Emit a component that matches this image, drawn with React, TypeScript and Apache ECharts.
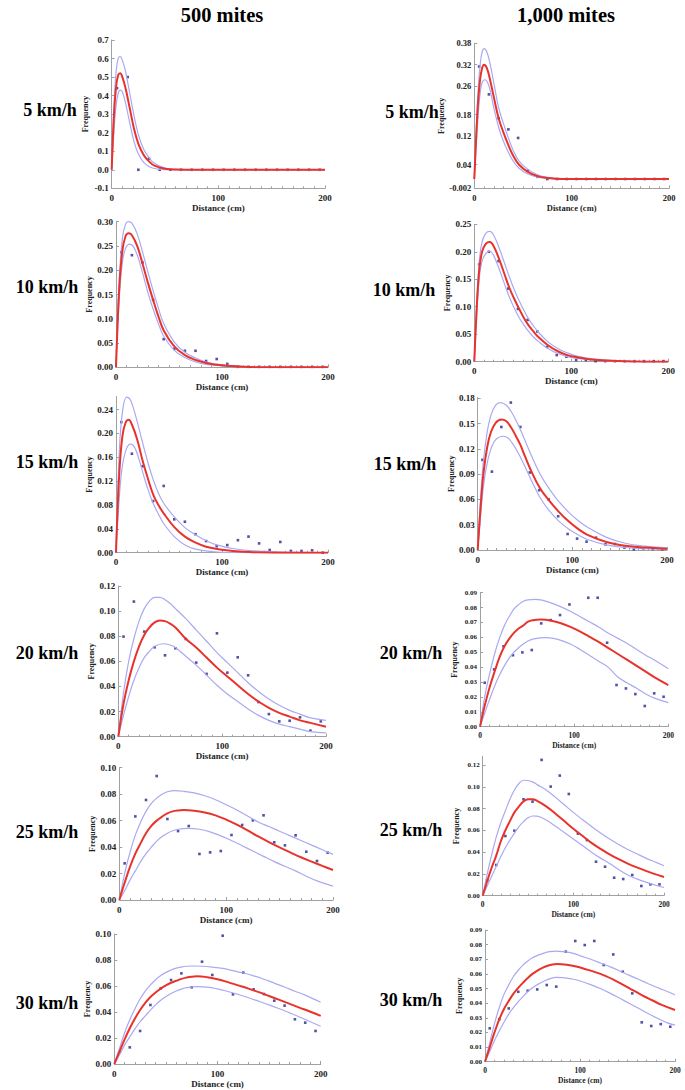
import React, { useEffect, useRef } from "react";
import * as echarts from "echarts";

const binCenters = [5, 15, 25, 35, 45, 55, 65, 75, 85, 95, 105, 115, 125, 135, 145, 155, 165, 175, 185, 195];
const xTickLabels = ["0", "100", "200"];
const columnTitles = ["500 mites", "1,000 mites"];
const speedLabels = ["5 km/h", "10 km/h", "15 km/h", "20 km/h", "25 km/h", "30 km/h"];

// ---- 500 mites, 5 km/h
const obs500_5 = [0.44, 0.5, 0.0, 0.06, 0, 0, 0, 0, 0, 0, 0, 0, 0, 0, 0, 0, 0, 0, 0, 0];
const fit500_5 = [[0, 0], [2, 0.28], [4, 0.44], [6, 0.51], [8, 0.52], [10, 0.5], [13, 0.44], [17, 0.33], [21, 0.22], [25, 0.14], [30, 0.08], [35, 0.045], [40, 0.022], [50, 0.005], [60, 0.001], [80, 0], [200, 0]];
const upper500_5 = [[0, 0], [2, 0.33], [4, 0.52], [6, 0.6], [8, 0.61], [10, 0.59], [13, 0.53], [17, 0.41], [21, 0.29], [25, 0.19], [30, 0.11], [35, 0.065], [40, 0.035], [50, 0.009], [60, 0.002], [80, 0], [200, 0]];
const lower500_5 = [[0, 0], [2, 0.2], [4, 0.34], [6, 0.41], [8, 0.43], [10, 0.42], [13, 0.36], [17, 0.25], [21, 0.15], [25, 0.085], [30, 0.04], [35, 0.018], [40, 0.007], [50, 0.001], [60, 0], [200, 0]];
const yTicks500_5 = [0.7, 0.6, 0.5, 0.4, 0.3, 0.2, 0.1, 0, -0.1];
const yLabels500_5 = ["0.7", "0.6", "0.5", "0.4", "0.3", "0.2", "0.1", "0.0", "-0.1"];

// ---- 1,000 mites, 5 km/h
const obs1000_5 = [0.315, 0.237, 0.17, 0.139, 0.115, 0.023, 0.006, 0, 0, 0, 0, 0, 0, 0, 0, 0, 0, 0, 0, 0];
const fit1000_5 = [[0, 0], [2, 0.12], [4, 0.22], [6, 0.28], [8, 0.31], [10, 0.32], [13, 0.31], [16, 0.28], [20, 0.23], [25, 0.17], [30, 0.13], [35, 0.095], [40, 0.065], [46, 0.04], [55, 0.02], [65, 0.008], [75, 0.003], [90, 0], [200, 0]];
const upper1000_5 = [[0, 0], [2, 0.14], [4, 0.25], [6, 0.32], [8, 0.355], [10, 0.365], [13, 0.355], [16, 0.325], [20, 0.27], [25, 0.2], [30, 0.155], [35, 0.115], [40, 0.08], [46, 0.05], [55, 0.027], [65, 0.012], [75, 0.005], [90, 0.001], [200, 0]];
const lower1000_5 = [[0, 0], [2, 0.1], [4, 0.18], [6, 0.24], [8, 0.27], [11, 0.278], [14, 0.268], [17, 0.24], [20, 0.2], [25, 0.145], [30, 0.105], [35, 0.075], [40, 0.05], [46, 0.03], [55, 0.014], [65, 0.005], [75, 0.002], [90, 0], [200, 0]];
const yTicks1000_5 = [0.38, 0.32, 0.26, 0.18, 0.12, 0.04, -0.026];
const yLabels1000_5 = ["0.38", "0.32", "0.26", "0.18", "0.12", "0.04", "-0.002"];

// ---- 500 mites, 10 km/h
const obs500_10 = [0.237, 0.231, 0.216, 0.139, 0.058, 0.038, 0.034, 0.034, 0.013, 0.017, 0.007, 0.001, 0.001, 0.001, 0.001, 0.001, 0.001, 0.001, 0.001, 0.001];
const fit500_10 = [[0, 0], [3, 0.16], [6, 0.24], [9, 0.27], [12, 0.276], [15, 0.272], [20, 0.25], [25, 0.214], [30, 0.175], [35, 0.139], [40, 0.105], [45, 0.076], [55, 0.043], [65, 0.025], [75, 0.015], [85, 0.009], [100, 0.004], [120, 0.001], [140, 0], [200, 0]];
const upper500_10 = [[0, 0], [3, 0.18], [6, 0.265], [9, 0.295], [12, 0.3], [15, 0.297], [20, 0.275], [25, 0.238], [30, 0.197], [35, 0.158], [40, 0.122], [45, 0.09], [55, 0.052], [65, 0.031], [75, 0.019], [85, 0.011], [100, 0.005], [120, 0.002], [140, 0], [200, 0]];
const lower500_10 = [[0, 0], [3, 0.14], [6, 0.215], [9, 0.245], [13, 0.254], [16, 0.25], [20, 0.232], [25, 0.195], [30, 0.155], [35, 0.12], [40, 0.09], [45, 0.064], [55, 0.035], [65, 0.02], [75, 0.011], [85, 0.006], [100, 0.003], [120, 0], [200, 0]];
const yTicks500_10 = [0, 0.05, 0.1, 0.15, 0.2, 0.25, 0.3];
const yLabels500_10 = ["0.00", "0.05", "0.10", "0.15", "0.20", "0.25", "0.30"];

// ---- 1,000 mites, 10 km/h
const obs1000_10 = [0.177, 0.2, 0.183, 0.133, 0.096, 0.076, 0.055, 0.027, 0.012, 0.009, 0.003, 0.003, 0.001, 0.001, 0.001, 0.001, 0.001, 0.001, 0.001, 0.001];
const fit1000_10 = [[0, 0], [2, 0.08], [5, 0.165], [8, 0.2], [12, 0.215], [16, 0.218], [20, 0.21], [26, 0.185], [31, 0.16], [36, 0.135], [41, 0.115], [46, 0.097], [51, 0.08], [56, 0.066], [61, 0.055], [66, 0.045], [76, 0.03], [86, 0.019], [96, 0.012], [106, 0.008], [116, 0.005], [136, 0.002], [160, 0.0005], [200, 0]];
const upper1000_10 = [[0, 0], [2, 0.09], [5, 0.18], [8, 0.218], [12, 0.234], [16, 0.237], [20, 0.23], [26, 0.205], [31, 0.18], [36, 0.155], [41, 0.132], [46, 0.112], [51, 0.094], [56, 0.078], [61, 0.065], [66, 0.054], [76, 0.036], [86, 0.024], [96, 0.016], [106, 0.01], [116, 0.0065], [136, 0.003], [160, 0.001], [200, 0]];
const lower1000_10 = [[0, 0], [2, 0.07], [5, 0.15], [8, 0.183], [12, 0.197], [16, 0.201], [20, 0.193], [26, 0.167], [31, 0.142], [36, 0.118], [41, 0.098], [46, 0.081], [51, 0.067], [56, 0.055], [61, 0.045], [66, 0.037], [76, 0.024], [86, 0.015], [96, 0.009], [106, 0.006], [116, 0.004], [136, 0.0015], [160, 0.0005], [200, 0]];
const yTicks1000_10 = [0, 0.05, 0.1, 0.15, 0.2, 0.25];
const yLabels1000_10 = ["0.00", "0.05", "0.10", "0.15", "0.20", "0.25"];

// ---- 500 mites, 15 km/h
const obs500_15 = [0.219, 0.166, 0.145, 0.0865, 0.112, 0.056, 0.052, 0.031, 0.0195, 0.011, 0.0128, 0.021, 0.027, 0.0156, 0.0045, 0.018, 0.003, 0.003, 0.004, 0.0];
const fit500_15 = [[0, 0], [3, 0.13], [6, 0.195], [9, 0.218], [12, 0.223], [15, 0.215], [20, 0.19], [25, 0.155], [30, 0.125], [35, 0.098], [40, 0.08], [45, 0.066], [55, 0.043], [65, 0.027], [75, 0.017], [85, 0.01], [100, 0.005], [120, 0.0015], [150, 0], [200, 0]];
const upper500_15 = [[0, 0], [3, 0.165], [6, 0.235], [10, 0.261], [13, 0.258], [16, 0.245], [20, 0.22], [25, 0.185], [30, 0.152], [35, 0.123], [40, 0.1], [45, 0.083], [55, 0.06], [65, 0.042], [75, 0.03], [85, 0.02], [95, 0.013], [110, 0.007], [130, 0.003], [160, 0.001], [200, 0]];
const lower500_15 = [[0, 0], [3, 0.09], [6, 0.145], [10, 0.175], [14, 0.182], [18, 0.175], [22, 0.155], [26, 0.13], [30, 0.107], [35, 0.083], [40, 0.065], [45, 0.049], [55, 0.027], [65, 0.013], [75, 0.006], [90, 0.002], [110, 0], [200, 0]];
const yTicks500_15 = [0, 0.04, 0.08, 0.12, 0.16, 0.2, 0.24];
const yLabels500_15 = ["0.00", "0.04", "0.08", "0.12", "0.16", "0.20", "0.24"];

// ---- 1,000 mites, 15 km/h
const obs1000_15 = [0.107, 0.093, 0.146, 0.175, 0.146, 0.092, 0.071, 0.06, 0.04, 0.019, 0.0135, 0.0099, 0.0146, 0.0067, 0.0071, 0.0028, 0.0008, 0.002, 0.0012, 0.0008];
const fit1000_15 = [[0, 0], [3, 0.05], [6, 0.09], [10, 0.122], [14, 0.14], [19, 0.151], [25, 0.155], [30, 0.153], [35, 0.146], [40, 0.136], [45, 0.125], [50, 0.111], [56, 0.095], [66, 0.073], [76, 0.058], [86, 0.045], [96, 0.034], [106, 0.025], [116, 0.018], [136, 0.0095], [156, 0.005], [177, 0.003], [200, 0.0016]];
const upper1000_15 = [[0, 0], [3, 0.06], [6, 0.105], [10, 0.14], [14, 0.16], [19, 0.172], [24, 0.175], [30, 0.172], [35, 0.165], [40, 0.155], [45, 0.143], [50, 0.13], [56, 0.114], [66, 0.09], [76, 0.072], [86, 0.057], [96, 0.045], [106, 0.035], [116, 0.027], [136, 0.015], [156, 0.008], [177, 0.0045], [200, 0.0025]];
const lower1000_15 = [[0, 0], [3, 0.04], [6, 0.075], [10, 0.103], [14, 0.12], [19, 0.131], [27, 0.135], [32, 0.133], [37, 0.126], [42, 0.117], [47, 0.106], [52, 0.094], [57, 0.082], [66, 0.062], [76, 0.046], [86, 0.034], [96, 0.025], [106, 0.018], [116, 0.0125], [136, 0.006], [156, 0.003], [177, 0.0015], [200, 0.0008]];
const yTicks1000_15 = [0, 0.03, 0.06, 0.09, 0.12, 0.15, 0.18];
const yLabels1000_15 = ["0.00", "0.03", "0.06", "0.09", "0.12", "0.15", "0.18"];

// ---- 500 mites, 20 km/h
const obs500_20 = [0.0797, 0.1076, 0.0837, 0.0712, 0.0648, 0.0704, 0.0778, 0.059, 0.05, 0.0823, 0.051, 0.0632, 0.0489, 0.0276, 0.018, 0.0122, 0.0127, 0.0154, 0.0048, 0.0122];
const fit500_20 = [[0, 0], [5, 0.026], [10, 0.045], [15, 0.06], [20, 0.072], [25, 0.081], [30, 0.087], [35, 0.091], [40, 0.0925], [45, 0.092], [50, 0.09], [55, 0.087], [65, 0.078], [75, 0.071], [85, 0.063], [95, 0.055], [105, 0.048], [115, 0.041], [125, 0.034], [135, 0.028], [145, 0.023], [155, 0.019], [165, 0.016], [175, 0.013], [185, 0.011], [200, 0.008]];
const upper500_20 = [[0, 0], [5, 0.035], [10, 0.06], [15, 0.078], [20, 0.092], [25, 0.102], [30, 0.108], [35, 0.111], [40, 0.111], [45, 0.109], [50, 0.106], [55, 0.102], [65, 0.094], [75, 0.085], [85, 0.076], [95, 0.067], [105, 0.059], [115, 0.051], [125, 0.043], [135, 0.036], [145, 0.03], [155, 0.025], [165, 0.021], [175, 0.018], [185, 0.015], [200, 0.013]];
const lower500_20 = [[0, 0], [5, 0.017], [10, 0.032], [15, 0.045], [20, 0.055], [25, 0.063], [30, 0.068], [35, 0.072], [43, 0.074], [50, 0.073], [55, 0.071], [65, 0.064], [75, 0.057], [85, 0.049], [95, 0.041], [105, 0.034], [115, 0.028], [125, 0.022], [135, 0.017], [145, 0.013], [155, 0.01], [165, 0.008], [175, 0.006], [185, 0.004], [200, 0.003]];
const yTicks500_20 = [0, 0.02, 0.04, 0.06, 0.08, 0.1, 0.12];
const yLabels500_20 = ["0.00", "0.02", "0.04", "0.06", "0.08", "0.10", "0.12"];

// ---- 1,000 mites, 20 km/h
const obs1000_20 = [0.0295, 0.0385, 0.054, 0.048, 0.0499, 0.0515, 0.0694, 0.0716, 0.075, 0.0821, 0.0902, 0.0866, 0.0866, 0.0564, 0.028, 0.0257, 0.0219, 0.0139, 0.0224, 0.0201];
const fit1000_20 = [[0, 0], [5, 0.014], [10, 0.026], [16, 0.038], [21, 0.047], [26, 0.054], [31, 0.059], [36, 0.063], [41, 0.066], [46, 0.068], [51, 0.0705], [56, 0.0715], [64, 0.072], [70, 0.0718], [76, 0.0712], [86, 0.0695], [96, 0.067], [106, 0.064], [116, 0.0605], [126, 0.057], [136, 0.053], [146, 0.049], [156, 0.045], [166, 0.041], [176, 0.037], [186, 0.033], [200, 0.028]];
const upper1000_20 = [[0, 0], [5, 0.02], [10, 0.035], [16, 0.05], [21, 0.06], [26, 0.068], [31, 0.074], [36, 0.079], [41, 0.082], [46, 0.0842], [51, 0.0852], [58, 0.0855], [66, 0.085], [76, 0.083], [86, 0.0805], [96, 0.0775], [106, 0.074], [116, 0.0705], [126, 0.067], [136, 0.063], [146, 0.0595], [156, 0.056], [166, 0.052], [176, 0.048], [186, 0.0445], [200, 0.039]];
const lower1000_20 = [[0, 0], [5, 0.009], [10, 0.018], [16, 0.028], [21, 0.035], [26, 0.041], [31, 0.046], [36, 0.05], [41, 0.053], [46, 0.0555], [51, 0.0575], [56, 0.0588], [64, 0.0597], [71, 0.0598], [76, 0.0595], [86, 0.058], [96, 0.0555], [106, 0.052], [116, 0.048], [126, 0.044], [136, 0.04], [146, 0.0335], [156, 0.0295], [166, 0.026], [176, 0.022], [186, 0.019], [200, 0.0162]];
const yTicks1000_20 = [0, 0.01, 0.02, 0.03, 0.04, 0.05, 0.06, 0.07, 0.08, 0.09];
const yLabels1000_20 = ["0.00", "0.01", "0.02", "0.03", "0.04", "0.05", "0.06", "0.07", "0.08", "0.09"];

// ---- 500 mites, 25 km/h
const obs500_25 = [0.0277, 0.0632, 0.0756, 0.0937, 0.0612, 0.0521, 0.0559, 0.0348, 0.036, 0.037, 0.0491, 0.0567, 0.0602, 0.064, 0.0436, 0.0413, 0.0489, 0.0365, 0.0295, 0.0358];
const fit500_25 = [[0, 0], [5, 0.013], [10, 0.025], [15, 0.035], [20, 0.043], [25, 0.0505], [30, 0.056], [35, 0.06], [40, 0.063], [45, 0.0655], [50, 0.067], [55, 0.0677], [60, 0.068], [70, 0.0675], [80, 0.0662], [90, 0.064], [100, 0.0608], [110, 0.057], [120, 0.0527], [130, 0.048], [140, 0.0438], [150, 0.0398], [160, 0.036], [170, 0.0323], [180, 0.029], [190, 0.0258], [200, 0.0227]];
const upper500_25 = [[0, 0], [5, 0.02], [10, 0.036], [15, 0.049], [20, 0.059], [25, 0.067], [30, 0.073], [35, 0.077], [40, 0.08], [45, 0.0818], [52, 0.0826], [60, 0.0822], [70, 0.081], [80, 0.0788], [90, 0.0758], [100, 0.072], [110, 0.068], [120, 0.0635], [130, 0.059], [140, 0.0555], [150, 0.052], [160, 0.0485], [170, 0.045], [180, 0.0415], [190, 0.038], [200, 0.0345]];
const lower500_25 = [[0, 0], [5, 0.007], [10, 0.015], [15, 0.022], [20, 0.029], [25, 0.035], [30, 0.04], [35, 0.0445], [40, 0.048], [45, 0.0505], [50, 0.0523], [55, 0.0535], [65, 0.0542], [75, 0.0535], [85, 0.0515], [95, 0.0485], [105, 0.045], [115, 0.041], [125, 0.037], [135, 0.033], [145, 0.029], [155, 0.0255], [165, 0.022], [175, 0.018], [185, 0.0145], [200, 0.0105]];
const yTicks500_25 = [0, 0.02, 0.04, 0.06, 0.08, 0.1];
const yLabels500_25 = ["0.00", "0.02", "0.04", "0.06", "0.08", "0.10"];

// ---- 1,000 mites, 25 km/h
const obs1000_25 = [0.0141, 0.0282, 0.0548, 0.0597, 0.0885, 0.0864, 0.1247, 0.1002, 0.1103, 0.0934, 0.057, 0.0511, 0.0312, 0.0266, 0.0165, 0.0153, 0.019, 0.0089, 0.0104, 0.0104];
const fit1000_25 = [[0, 0], [5, 0.0135], [10, 0.026], [15, 0.037], [20, 0.05], [25, 0.06], [30, 0.0685], [35, 0.0765], [40, 0.082], [45, 0.0865], [50, 0.0885], [55, 0.0885], [60, 0.087], [70, 0.082], [80, 0.0755], [90, 0.0685], [100, 0.0615], [110, 0.055], [120, 0.0485], [130, 0.043], [140, 0.038], [150, 0.0335], [160, 0.0295], [170, 0.026], [180, 0.0228], [190, 0.0198], [200, 0.0172]];
const upper1000_25 = [[0, 0], [5, 0.02], [10, 0.038], [15, 0.054], [20, 0.067], [25, 0.078], [30, 0.0885], [35, 0.097], [40, 0.103], [45, 0.106], [50, 0.1058], [55, 0.1045], [60, 0.102], [70, 0.097], [80, 0.0905], [90, 0.0835], [100, 0.0765], [110, 0.07], [120, 0.0635], [130, 0.0575], [140, 0.052], [150, 0.047], [160, 0.0425], [170, 0.0385], [180, 0.0345], [190, 0.031], [200, 0.0275]];
const lower1000_25 = [[0, 0], [5, 0.009], [10, 0.018], [15, 0.027], [20, 0.036], [25, 0.044], [30, 0.051], [35, 0.0575], [40, 0.0635], [45, 0.068], [50, 0.0715], [55, 0.0732], [60, 0.073], [70, 0.0695], [80, 0.064], [90, 0.058], [100, 0.052], [110, 0.046], [120, 0.04], [130, 0.0345], [140, 0.0295], [150, 0.024], [160, 0.019], [170, 0.0155], [180, 0.0125], [190, 0.0098], [200, 0.0075]];
const yTicks1000_25 = [0, 0.02, 0.04, 0.06, 0.08, 0.1, 0.12];
const yLabels1000_25 = ["0.00", "0.02", "0.04", "0.06", "0.08", "0.10", "0.12"];

// ---- 500 mites, 30 km/h
const obs500_30 = [0.009, 0.0128, 0.0254, 0.0454, 0.0582, 0.0646, 0.0697, 0.059, 0.0787, 0.0685, 0.0987, 0.0536, 0.0703, 0.0574, 0.0538, 0.0487, 0.0449, 0.0344, 0.0318, 0.0254];
const fit500_30 = [[0, 0], [5, 0.0095], [10, 0.019], [15, 0.0275], [20, 0.035], [25, 0.0415], [30, 0.047], [35, 0.0515], [40, 0.055], [45, 0.058], [50, 0.0605], [55, 0.0625], [60, 0.064], [65, 0.0655], [70, 0.0665], [75, 0.0672], [80, 0.0675], [90, 0.0668], [100, 0.0652], [110, 0.063], [120, 0.0605], [130, 0.058], [140, 0.0553], [150, 0.0523], [160, 0.0493], [170, 0.0462], [180, 0.0432], [190, 0.0402], [200, 0.037]];
const upper500_30 = [[0, 0], [5, 0.012], [10, 0.024], [15, 0.034], [20, 0.0425], [25, 0.05], [30, 0.056], [35, 0.0608], [40, 0.0648], [45, 0.068], [50, 0.0705], [55, 0.0723], [60, 0.0737], [65, 0.0746], [70, 0.0752], [77, 0.0754], [85, 0.0752], [95, 0.0745], [105, 0.0735], [115, 0.0718], [125, 0.07], [135, 0.0678], [145, 0.0652], [155, 0.0622], [165, 0.0592], [175, 0.056], [185, 0.053], [200, 0.0475]];
const lower500_30 = [[0, 0], [5, 0.007], [10, 0.0145], [15, 0.021], [20, 0.027], [25, 0.0325], [30, 0.037], [35, 0.0415], [40, 0.0455], [45, 0.049], [50, 0.0518], [55, 0.0543], [60, 0.0562], [65, 0.0576], [70, 0.0587], [80, 0.0595], [90, 0.0592], [100, 0.0578], [110, 0.0558], [120, 0.0535], [130, 0.051], [140, 0.0483], [150, 0.0455], [160, 0.0425], [170, 0.0393], [180, 0.036], [190, 0.0325], [200, 0.029]];
const yTicks500_30 = [0, 0.02, 0.04, 0.06, 0.08, 0.1];
const yLabels500_30 = ["0.00", "0.02", "0.04", "0.06", "0.08", "0.10"];

// ---- 1,000 mites, 30 km/h
const obs1000_30 = [0.0228, 0.0289, 0.0364, 0.0478, 0.0485, 0.0494, 0.0524, 0.0513, 0.0752, 0.0825, 0.0797, 0.0825, 0.0661, 0.0733, 0.0615, 0.0467, 0.0269, 0.0244, 0.0257, 0.0239];
const fit1000_30 = [[0, 0], [5, 0.01], [10, 0.02], [15, 0.0289], [20, 0.036], [25, 0.0415], [30, 0.0465], [35, 0.0505], [40, 0.054], [45, 0.0572], [50, 0.06], [56, 0.0626], [61, 0.0643], [66, 0.0656], [71, 0.0664], [76, 0.0667], [86, 0.0662], [96, 0.065], [106, 0.0632], [116, 0.0612], [126, 0.0588], [136, 0.0558], [146, 0.0524], [156, 0.0487], [166, 0.0452], [176, 0.042], [186, 0.0388], [200, 0.0353]];
const upper1000_30 = [[0, 0], [5, 0.013], [10, 0.026], [15, 0.037], [20, 0.046], [25, 0.0525], [30, 0.0582], [35, 0.0625], [40, 0.066], [45, 0.0688], [50, 0.071], [56, 0.0728], [62, 0.0742], [68, 0.0752], [74, 0.0756], [82, 0.0752], [92, 0.0742], [102, 0.072], [112, 0.0698], [122, 0.0673], [132, 0.0648], [142, 0.062], [152, 0.059], [162, 0.0562], [172, 0.0533], [182, 0.0505], [192, 0.048], [200, 0.0458]];
const lower1000_30 = [[0, 0], [5, 0.007], [10, 0.0145], [15, 0.021], [20, 0.027], [25, 0.0325], [30, 0.037], [35, 0.041], [40, 0.0445], [45, 0.0478], [50, 0.0505], [56, 0.053], [62, 0.055], [68, 0.0566], [75, 0.0576], [82, 0.0575], [92, 0.0565], [102, 0.0548], [112, 0.0525], [122, 0.0498], [132, 0.0467], [142, 0.0433], [152, 0.0398], [162, 0.0363], [172, 0.0328], [182, 0.0295], [192, 0.0265], [200, 0.025]];
const yTicks1000_30 = [0, 0.01, 0.02, 0.03, 0.04, 0.05, 0.06, 0.07, 0.08, 0.09];
const yLabels1000_30 = ["0.00", "0.01", "0.02", "0.03", "0.04", "0.05", "0.06", "0.07", "0.08", "0.09"];

const SERIF = '"Liberation Serif", "Times New Roman", serif';

// layout of each panel (pixels), kept apart from the data
const panels = [
  { obs: obs500_5, fit: fit500_5, hi: upper500_5, lo: lower500_5, ticks: yTicks500_5, labels: yLabels500_5, min: -0.1, max: 0.7, left: 111.7, top: 40, width: 213.3, height: 148.3, fs: 9, xfs: 9 },
  { obs: obs1000_5, fit: fit1000_5, hi: upper1000_5, lo: lower1000_5, ticks: yTicks1000_5, labels: yLabels1000_5, min: -0.026, max: 0.38, left: 474.3, top: 43.3, width: 194.7, height: 145, fs: 8.5, xfs: 8.5 },
  { obs: obs500_10, fit: fit500_10, hi: upper500_10, lo: lower500_10, ticks: yTicks500_10, labels: yLabels500_10, min: 0, max: 0.3, left: 116, top: 221.7, width: 212, height: 145.6, fs: 9, xfs: 9 },
  { obs: obs1000_10, fit: fit1000_10, hi: upper1000_10, lo: lower1000_10, ticks: yTicks1000_10, labels: yLabels1000_10, min: 0, max: 0.25, left: 474.3, top: 224.3, width: 194, height: 137.4, fs: 9, xfs: 9 },
  { obs: obs500_15, fit: fit500_15, hi: upper500_15, lo: lower500_15, ticks: yTicks500_15, labels: yLabels500_15, min: 0, max: 0.262, left: 116, top: 396.5, width: 212, height: 156.2, fs: 9, xfs: 9 },
  { obs: obs1000_15, fit: fit1000_15, hi: upper1000_15, lo: lower1000_15, ticks: yTicks1000_15, labels: yLabels1000_15, min: 0, max: 0.181, left: 477.7, top: 397.5, width: 189.3, height: 152.5, fs: 9, xfs: 9 },
  { obs: obs500_20, fit: fit500_20, hi: upper500_20, lo: lower500_20, ticks: yTicks500_20, labels: yLabels500_20, min: 0, max: 0.12, left: 118.3, top: 586, width: 207.7, height: 150.7, fs: 9, xfs: 9 },
  { obs: obs1000_20, fit: fit1000_20, hi: upper1000_20, lo: lower1000_20, ticks: yTicks1000_20, labels: yLabels1000_20, min: 0, max: 0.09, left: 480, top: 592.7, width: 188.3, height: 134, fs: 7, xfs: 7.5 },
  { obs: obs500_25, fit: fit500_25, hi: upper500_25, lo: lower500_25, ticks: yTicks500_25, labels: yLabels500_25, min: 0, max: 0.1, left: 119.3, top: 767.7, width: 213.7, height: 132.3, fs: 9, xfs: 9 },
  { obs: obs1000_25, fit: fit1000_25, hi: upper1000_25, lo: lower1000_25, ticks: yTicks1000_25, labels: yLabels1000_25, min: 0, max: 0.128, left: 482.7, top: 756.3, width: 181.3, height: 139.4, fs: 7, xfs: 7.5 },
  { obs: obs500_30, fit: fit500_30, hi: upper500_30, lo: lower500_30, ticks: yTicks500_30, labels: yLabels500_30, min: 0, max: 0.1, left: 114.3, top: 934, width: 206.4, height: 130, fs: 9, xfs: 9 },
  { obs: obs1000_30, fit: fit1000_30, hi: upper1000_30, lo: lower1000_30, ticks: yTicks1000_30, labels: yLabels1000_30, min: 0, max: 0.09, left: 485, top: 930, width: 190, height: 131.7, fs: 7, xfs: 7.5 },
];

const titlePos = [{ x: 222, y: 15 }, { x: 566, y: 15 }];
const rowLabelPos = [
  [{ x: 50, y: 110 }, { x: 412, y: 112 }],
  [{ x: 47, y: 287 }, { x: 404, y: 290 }],
  [{ x: 47, y: 462 }, { x: 405, y: 464 }],
  [{ x: 47, y: 653 }, { x: 411, y: 653 }],
  [{ x: 47, y: 832 }, { x: 411, y: 830 }],
  [{ x: 47, y: 1003 }, { x: 411, y: 1000 }],
];

const AXIS_COLOR = "#a0a0a0";
const RED = "#e8332c";
const BLUE = "#a9a9f2";
const DOT = "#262690";

function buildOption() {
  const grid: any[] = [];
  const xAxis: any[] = [];
  const yAxis: any[] = [];
  const series: any[] = [];
  panels.forEach((p, i) => {
    grid.push({ left: p.left, top: p.top, width: p.width, height: p.height, containLabel: false });
    xAxis.push({
      gridIndex: i,
      type: "value",
      min: 0,
      max: 200,
      interval: 100,
      axisLine: { show: true, onZero: false, lineStyle: { color: AXIS_COLOR, width: 1 } },
      axisTick: { show: true, inside: true, length: 3, lineStyle: { color: AXIS_COLOR } },
      minorTick: { show: true, splitNumber: 10, length: 2, lineStyle: { color: AXIS_COLOR } },
      splitLine: { show: false },
      minorSplitLine: { show: false },
      axisLabel: {
        margin: 5,
        fontSize: p.xfs,
        fontWeight: "bold",
        fontFamily: SERIF,
        color: "#222",
        formatter: (v: number) => xTickLabels[Math.round(v / 100)] ?? "",
      },
      name: "Distance (cm)",
      nameLocation: "middle",
      nameGap: 15,
      nameTextStyle: { fontSize: p.xfs, fontWeight: "bold", fontFamily: SERIF, color: "#222" },
    });
    const ticks = p.ticks;
    const labels = p.labels;
    yAxis.push({
      gridIndex: i,
      type: "value",
      min: p.min,
      max: p.max,
      axisLine: { show: true, onZero: false, lineStyle: { color: AXIS_COLOR, width: 1 } },
      axisTick: { show: true, inside: true, length: 3, customValues: ticks, lineStyle: { color: AXIS_COLOR } },
      splitLine: { show: false },
      axisLabel: {
        customValues: ticks,
        margin: 3,
        fontSize: p.fs,
        fontWeight: "bold",
        fontFamily: SERIF,
        color: "#222",
        formatter: (v: number) => {
          for (let k = 0; k < ticks.length; k++) {
            if (Math.abs(ticks[k] - v) < 1e-7) return labels[k];
          }
          return "";
        },
      },
      name: "Frequency",
      nameLocation: "middle",
      nameGap: 22,
      nameTextStyle: { fontSize: 8, fontWeight: "bold", fontFamily: SERIF, color: "#222" },
    });
    const lineBase = {
      type: "line",
      xAxisIndex: i,
      yAxisIndex: i,
      showSymbol: false,
      smooth: 0.4,
      silent: true,
    };
    series.push({ ...lineBase, data: p.hi, lineStyle: { color: BLUE, width: 1.2 } });
    series.push({ ...lineBase, data: p.lo, lineStyle: { color: BLUE, width: 1.2 } });
    series.push({ ...lineBase, data: p.fit, lineStyle: { color: RED, width: 2 } });
    series.push({
      type: "scatter",
      xAxisIndex: i,
      yAxisIndex: i,
      symbol: "rect",
      symbolSize: 2.6,
      itemStyle: { color: DOT },
      data: binCenters.map((x, k) => [x, p.obs[k]]),
      silent: true,
    });
  });

  const graphic: any[] = [];
  columnTitles.forEach((t, c) => {
    graphic.push({
      type: "text",
      x: titlePos[c].x,
      y: titlePos[c].y,
      style: { text: t, fontSize: 20.5, fontWeight: "bold", fontFamily: SERIF, fill: "#000", align: "center", verticalAlign: "middle" },
    });
  });
  speedLabels.forEach((s, r) => {
    [0, 1].forEach((c) => {
      graphic.push({
        type: "text",
        x: rowLabelPos[r][c].x,
        y: rowLabelPos[r][c].y,
        style: { text: s, fontSize: 18, fontWeight: "bold", fontFamily: SERIF, fill: "#000", align: "center", verticalAlign: "middle" },
      });
    });
  });

  return {
    animation: false,
    backgroundColor: "#ffffff",
    grid,
    xAxis,
    yAxis,
    series,
    graphic,
  };
}

export default function App() {
  const ref = useRef<HTMLDivElement>(null);
  useEffect(() => {
    if (!ref.current) return;
    const chart = echarts.init(ref.current, undefined, { renderer: "svg" });
    chart.setOption(buildOption() as any);
    return () => chart.dispose();
  }, []);
  return (
    <div
      ref={ref}
      style={{ position: "absolute", left: 0, top: 0, width: 685, height: 1090, background: "#fff" }}
    />
  );
}
